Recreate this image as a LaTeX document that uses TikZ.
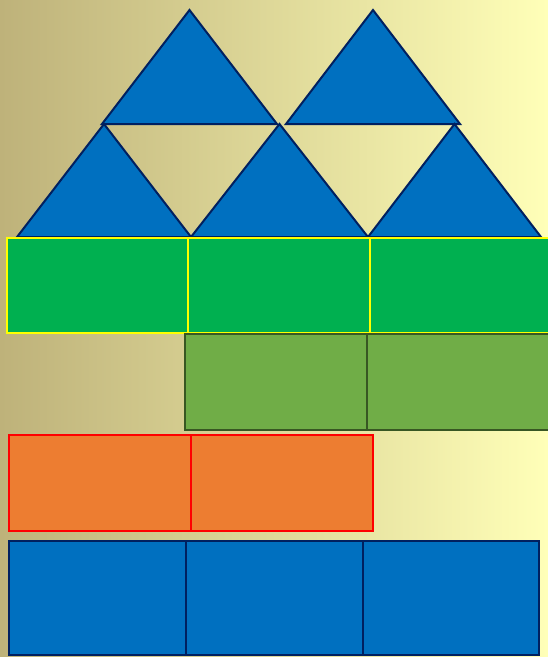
\documentclass[tikz,border=0pt]{standalone}
\usepackage{tikz}
\definecolor{bgtan}{RGB}{190,178,122}
\definecolor{bgmid}{RGB}{236,224,152}
\definecolor{bglight}{RGB}{255,255,184}
\definecolor{tileblue}{RGB}{0,112,192}
\definecolor{edgenavy}{RGB}{0,32,96}
\definecolor{tilegreen}{RGB}{0,176,80}
\definecolor{edgeyellow}{RGB}{255,255,0}
\definecolor{tileolive}{RGB}{112,173,71}
\definecolor{edgeolive}{RGB}{56,87,35}
\definecolor{tileorange}{RGB}{237,125,49}
\definecolor{edgered}{RGB}{255,0,0}
\tikzset{
  tri/.style={draw=edgenavy, fill=tileblue, line width=2pt},
  cell/.style={line width=2pt},
  greencell/.style={cell, draw=edgeyellow, fill=tilegreen},
  olivecell/.style={cell, draw=edgeolive, fill=tileolive},
  orangecell/.style={cell, draw=edgered, fill=tileorange},
  bluecell/.style={cell, draw=edgenavy, fill=tileblue},
}

\begin{document}
\begin{tikzpicture}[x=1pt,y=-1pt]
  \useasboundingbox (0,0) rectangle (548,657);
  \clip (0,0) rectangle (548,657);
  \shade[left color=bgtan, middle color=bgmid, right color=bglight] (0,0) rectangle (548,657);
  % upper triangles
  \foreach \l/\r in {102/277,286/460}{
    \draw[tri] (\l,124) -- ({(\l+\r)/2},10) -- (\r,124) -- cycle;}
  % lower triangles
  \foreach \l/\r in {17/191,191/368,368/541}{
    \draw[tri] (\l,237) -- ({(\l+\r)/2},124) -- (\r,237) -- cycle;}
  % green row
  \foreach \l/\r in {7/188,188/370,370/552}{
    \draw[greencell] (\l,238) rectangle (\r,333);}
  % olive row
  \foreach \l/\r in {185/367,367/552}{
    \draw[olivecell] (\l,334) rectangle (\r,430);}
  % orange row
  \foreach \l/\r in {9/191,191/373}{
    \draw[orangecell] (\l,435) rectangle (\r,531);}
  % blue row
  \foreach \l/\r in {9/186,186/363,363/539}{
    \draw[bluecell] (\l,541) rectangle (\r,655);}
\end{tikzpicture}
\end{document}
